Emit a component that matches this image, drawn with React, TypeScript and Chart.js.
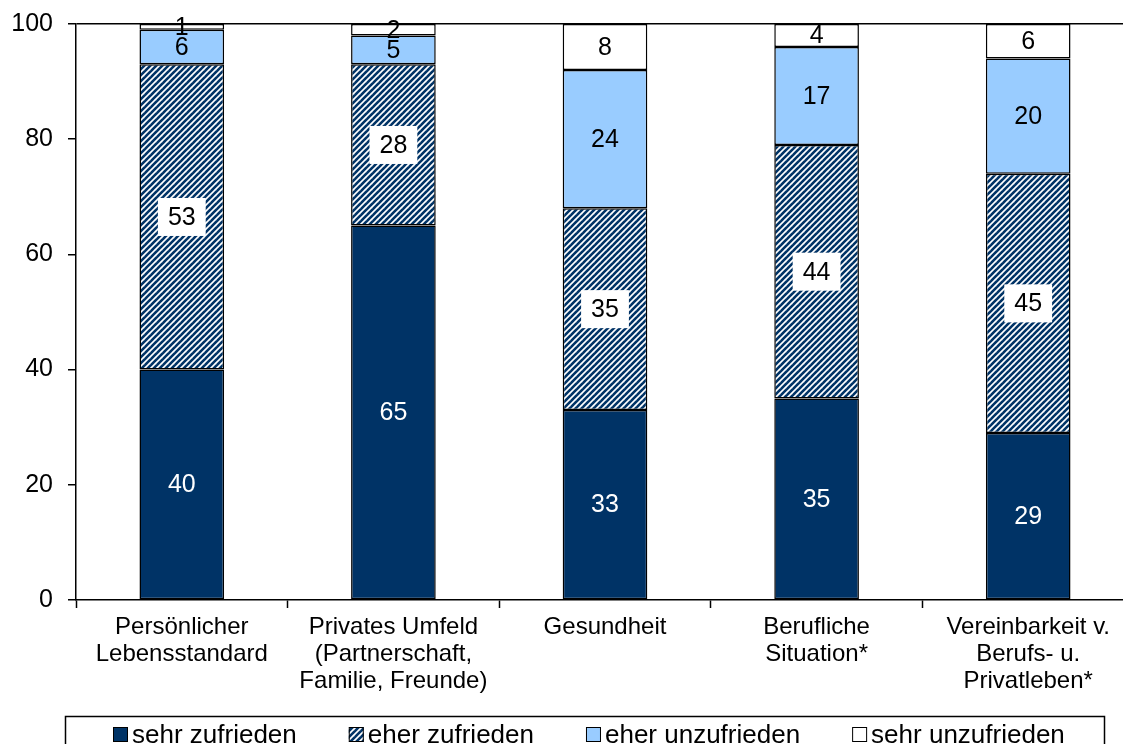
import React, { useEffect, useRef } from "react";
import { Chart, registerables } from "chart.js";

Chart.register(...registerables);

const categories: string[][] = [
  ["Persönlicher", "Lebensstandard"],
  ["Privates Umfeld", "(Partnerschaft,", "Familie, Freunde)"],
  ["Gesundheit"],
  ["Berufliche", "Situation*"],
  ["Vereinbarkeit v.", "Berufs- u.", "Privatleben*"],
];

const seriesNames = ["sehr zufrieden", "eher zufrieden", "eher unzufrieden", "sehr unzufrieden"];
const sehrZufrieden = [40, 65, 33, 35, 29];
const eherZufrieden = [53, 28, 35, 44, 45];
const eherUnzufrieden = [6, 5, 24, 17, 20];
const sehrUnzufrieden = [1, 2, 8, 4, 6];

const yMin = 0;
const yMax = 100;
const yStep = 20;

const FONT = '"Liberation Sans", Arial, Helvetica, sans-serif';
const NAVY = "#003366";
const LIGHT = "#99CCFF";
const WHITE = "#FFFFFF";

function makeHatch(): CanvasPattern | string {
  const c = document.createElement("canvas");
  c.width = 6;
  c.height = 6;
  const g = c.getContext("2d");
  if (!g) return NAVY;
  g.fillStyle = WHITE;
  g.fillRect(0, 0, 6, 6);
  g.strokeStyle = NAVY;
  g.lineWidth = 2.6;
  for (const k of [0, 6, 12]) {
    g.beginPath();
    g.moveTo(k - 7, 7);
    g.lineTo(k + 1, -1);
    g.stroke();
  }
  const p = g.createPattern(c, "repeat");
  return p || NAVY;
}

const segmentLabels = {
  id: "segmentLabels",
  afterDatasetsDraw(chart: any) {
    const ctx: CanvasRenderingContext2D = chart.ctx;
    ctx.save();
    ctx.font = `25px ${FONT}`;
    ctx.textAlign = "center";
    ctx.textBaseline = "middle";
    chart.data.datasets.forEach((ds: any, di: number) => {
      const meta = chart.getDatasetMeta(di);
      meta.data.forEach((el: any, i: number) => {
        const v = ds.data[i];
        const p = el.getProps(["x", "y", "base"], true);
        const cy = (p.y + p.base) / 2;
        const txt = String(v);
        if (di === 1) {
          const w = ctx.measureText(txt).width + 20;
          ctx.fillStyle = WHITE;
          ctx.fillRect(p.x - w / 2, cy - 19, w, 38);
        }
        ctx.fillStyle = di === 0 ? WHITE : "#000";
        ctx.fillText(txt, p.x, cy + 1);
      });
    });
    ctx.restore();
  },
};

const boxLegend = {
  id: "boxLegend",
  afterDraw(chart: any) {
    const ctx: CanvasRenderingContext2D = chart.ctx;
    ctx.save();
    ctx.strokeStyle = "#000";
    ctx.lineWidth = 1.5;
    ctx.strokeRect(65.5, 716.5, 1039, 60);
    ctx.font = `26px ${FONT}`;
    ctx.textAlign = "left";
    ctx.textBaseline = "alphabetic";
    let x = 113;
    chart.data.datasets.forEach((ds: any) => {
      ctx.fillStyle = ds.backgroundColor;
      ctx.fillRect(x, 727, 15, 15);
      ctx.lineWidth = 1;
      ctx.strokeStyle = "#000";
      ctx.strokeRect(x + 0.5, 727.5, 14, 14);
      ctx.fillStyle = "#000";
      ctx.fillText(ds.label, x + 19, 743);
      x += 19 + ctx.measureText(ds.label).width + 52;
    });
    ctx.restore();
  },
};

export default function App() {
  const ref = useRef<HTMLCanvasElement | null>(null);

  useEffect(() => {
    if (!ref.current) return;
    Chart.defaults.font.family = FONT;
    const hatch = makeHatch();
    const border = { top: 1.5, bottom: 1.5, left: 1.5, right: 1.5 };
    const chart = new Chart(ref.current, {
      type: "bar",
      data: {
        labels: categories,
        datasets: [
          { label: seriesNames[0], data: sehrZufrieden, backgroundColor: NAVY },
          { label: seriesNames[1], data: eherZufrieden, backgroundColor: hatch as any },
          { label: seriesNames[2], data: eherUnzufrieden, backgroundColor: LIGHT },
          { label: seriesNames[3], data: sehrUnzufrieden, backgroundColor: WHITE },
        ].map((d) => ({
          ...d,
          borderColor: "#000",
          borderWidth: border,
          borderSkipped: false,
          inflateAmount: 0,
          barPercentage: 0.4,
          categoryPercentage: 1.0,
        })),
      },
      options: {
        responsive: false,
        animation: false,
        devicePixelRatio: 1,
        layout: { padding: { top: 24, left: 0, right: 0, bottom: 0 } },
        plugins: {
          legend: { display: false },
          tooltip: { enabled: false },
        },
        scales: {
          x: {
            stacked: true,
            offset: true,
            grid: {
              display: true,
              offset: true,
              drawOnChartArea: false,
              drawTicks: true,
              tickLength: 8,
              tickColor: "#000",
              tickWidth: 1.5,
            },
            border: { display: true, color: "#000", width: 1.5 },
            ticks: {
              color: "#000",
              font: { family: FONT, size: 24, lineHeight: 27 / 24 },
              padding: 6,
              maxRotation: 0,
              autoSkip: false,
            },
            afterFit: (s: any) => {
              s.height = 144;
              s.paddingLeft = 0;
              s.paddingRight = 0;
            },
          },
          y: {
            stacked: true,
            min: yMin,
            max: yMax,
            ticks: {
              stepSize: yStep,
              color: "#000",
              font: { family: FONT, size: 25 },
              padding: 15,
            },
            grid: {
              color: (c: any) => (c.tick && c.tick.value === yMax ? "#000" : "rgba(0,0,0,0)"),
              lineWidth: 1.5,
              drawTicks: true,
              tickLength: 8,
              tickColor: "#000",
              tickWidth: 1.5,
            },
            border: { display: true, color: "#000", width: 1.5 },
            afterFit: (s: any) => {
              s.width = 76;
              s.paddingTop = 0;
              s.paddingBottom = 0;
            },
          },
        },
      },
      plugins: [segmentLabels, boxLegend],
    });
    return () => chart.destroy();
  }, []);

  return (
    <div
      style={{
        position: "fixed",
        left: 0,
        top: 0,
        width: 1123,
        height: 744,
        overflow: "hidden",
        background: "#fff",
      }}
    >
      <canvas ref={ref} width={1134} height={744} style={{ display: "block" }} />
    </div>
  );
}
